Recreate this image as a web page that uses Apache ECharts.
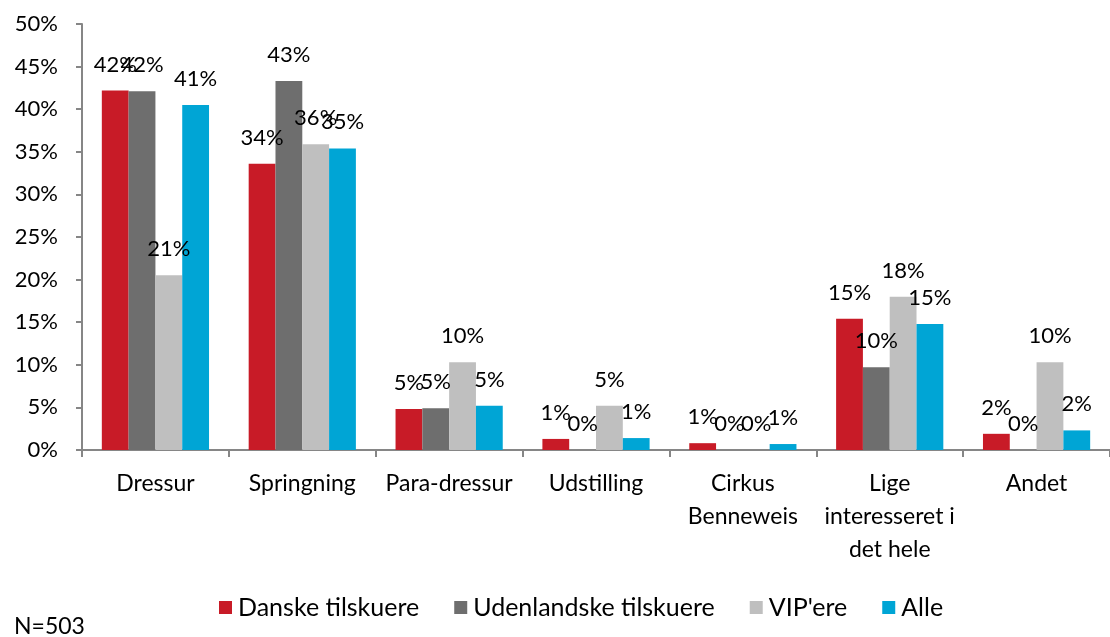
<!DOCTYPE html>
<html>
<head>
<meta charset="utf-8">
<script src="https://cdn.jsdelivr.net/npm/echarts@6/dist/echarts.min.js"></script>
<style>
  html, body { margin: 0; padding: 0; background: #fff; }
  #chart { width: 1110px; height: 637px; }
</style>
</head>
<body>
<div id="chart"></div>
<script>
// kategorier og værdier (procent)
var categories = ['Dressur', 'Springning', 'Para-dressur', 'Udstilling', 'Cirkus\nBenneweis', 'Lige\ninteresseret i\ndet hele', 'Andet'];
var danske = [42.2, 33.6, 4.8, 1.3, 0.8, 15.4, 1.9];
var udenlandske = [42.1, 43.3, 4.9, 0, 0, 9.7, 0];
var vip = [20.5, 35.9, 10.3, 5.2, 0, 18.0, 10.3];
var alle = [40.5, 35.4, 5.2, 1.4, 0.7, 14.8, 2.3];
var yTicks = [0, 5, 10, 15, 20, 25, 30, 35, 40, 45, 50];

var font = 'Lato';
var chart = echarts.init(document.getElementById('chart'));

function serie(name, data, color) {
  return {
    name: name,
    type: 'bar',
    data: data,
    barGap: '0%',
    barCategoryGap: '27%',
    itemStyle: { color: color },
    label: {
      show: true,
      position: 'top',
      distance: 15,
      color: '#000',
      fontFamily: font,
      fontSize: 22,
      formatter: function (p) { return Math.round(p.value) + '%'; }
    }
  };
}

chart.setOption({
  animation: false,
  textStyle: { fontFamily: font },
  grid: { left: 82, top: 24, bottom: 187, right: -8, containLabel: false },
  legend: {
    left: 214,
    top: 590,
    itemWidth: 13,
    itemHeight: 13,
    itemGap: 35,
    icon: 'rect',
    textStyle: { fontFamily: font, fontSize: 25, color: '#000', padding: [0, 0, 0, 1] },
    data: ['Danske tilskuere', 'Udenlandske tilskuere', "VIP'ere", 'Alle']
  },
  xAxis: {
    type: 'category',
    data: categories,
    axisLine: { lineStyle: { color: '#868686', width: 2 } },
    axisTick: { show: true, length: 7, lineStyle: { color: '#868686', width: 2 } },
    axisLabel: { color: '#000', fontFamily: font, fontSize: 23, lineHeight: 33, margin: 17, interval: 0 }
  },
  yAxis: {
    type: 'value',
    min: yTicks[0],
    max: yTicks[yTicks.length - 1],
    interval: 5,
    splitLine: { show: false },
    axisLine: { show: true, lineStyle: { color: '#868686', width: 2 } },
    axisTick: { show: true, length: 6, lineStyle: { color: '#868686', width: 2 } },
    axisLabel: { color: '#000', fontFamily: font, fontSize: 22, margin: 24, formatter: '{value}%' }
  },
  series: [
    serie('Danske tilskuere', danske, '#c81b27'),
    serie('Udenlandske tilskuere', udenlandske, '#6e6e6e'),
    serie("VIP'ere", vip, '#bfbfbf'),
    serie('Alle', alle, '#00a5d5')
  ],
  graphic: [{
    type: 'text',
    left: 14,
    top: 615,
    style: { text: 'N=503', fontFamily: font, fontSize: 23, fill: '#000' }
  }]
});
</script>
</body>
</html>
